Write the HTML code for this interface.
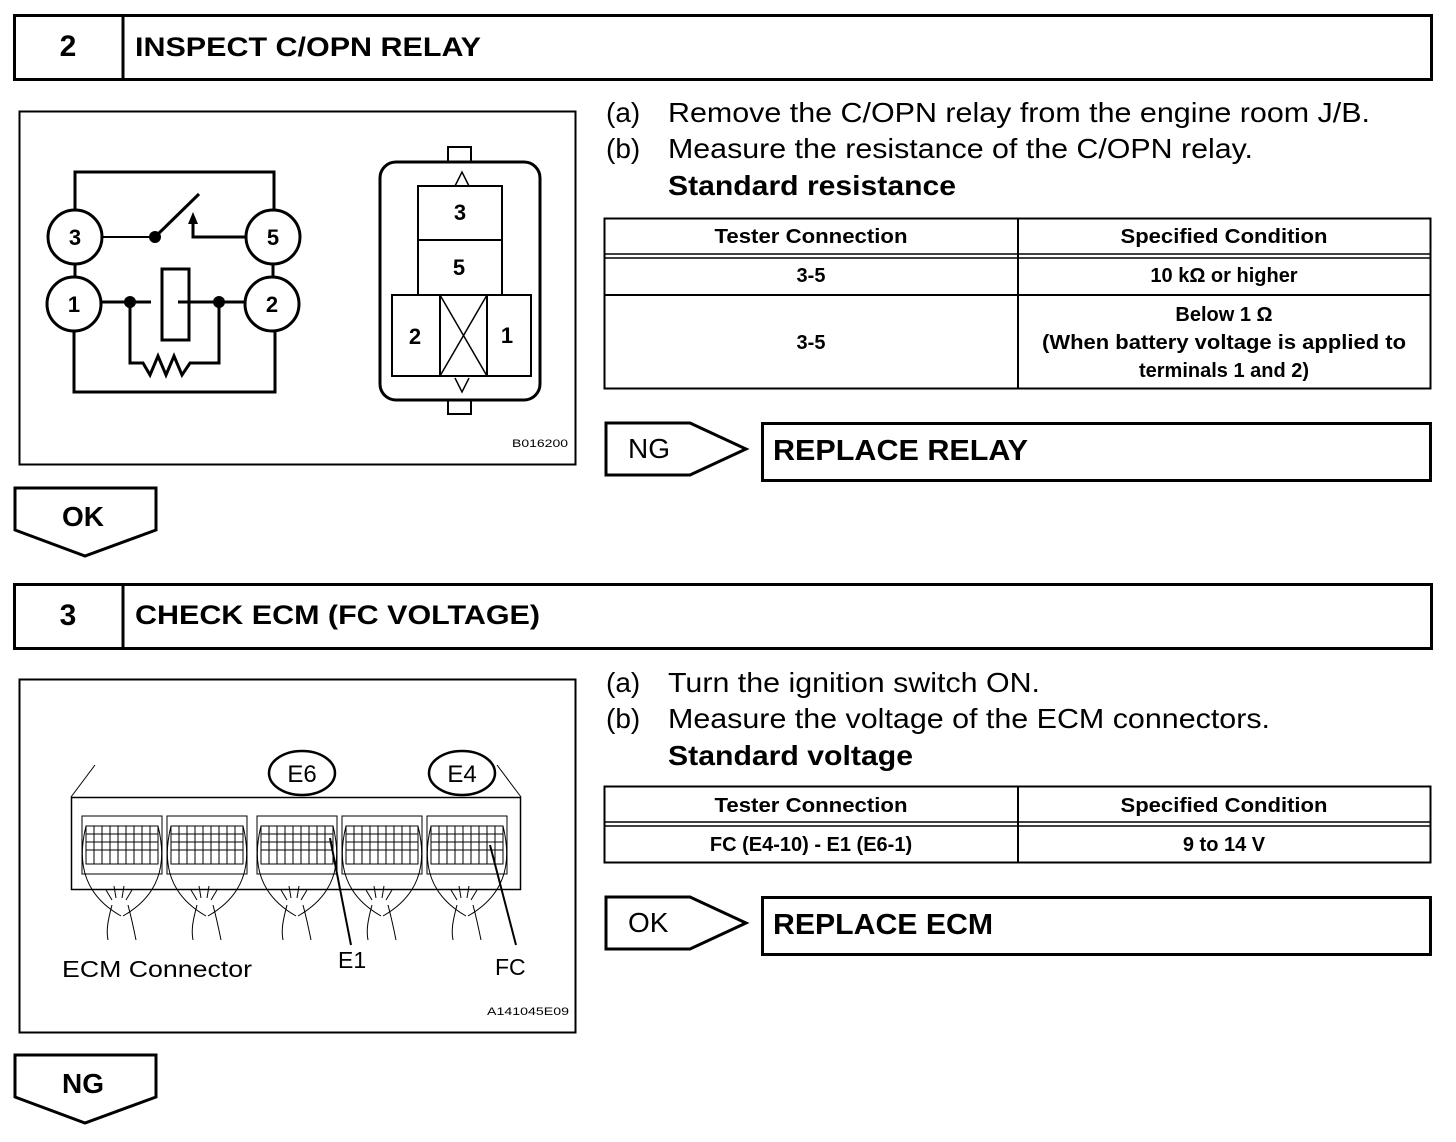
<!DOCTYPE html>
<html><head><meta charset="utf-8"><style>
html,body{margin:0;padding:0;background:#fff}
svg{display:block}
text{font-family:"Liberation Sans",sans-serif;fill:#000}
.b{font-weight:bold}
</style></head><body>
<svg width="1456" height="1142" viewBox="0 0 1456 1142" xmlns="http://www.w3.org/2000/svg">
<g fill="none" stroke="#000">
<!-- section 2 header -->
<rect x="14.5" y="15.5" width="1417" height="64" stroke-width="3"/>
<line x1="123" y1="15" x2="123" y2="80" stroke-width="3"/>
<!-- figure 1 -->
<rect x="19.5" y="111.5" width="556" height="353" stroke-width="2"/>
<!-- relay schematic -->
<g stroke-width="3">
<polyline points="75,211 75,172 274,172 274,211"/>
<polyline points="74,330 74,392 275,392 275,330"/>
<line x1="75" y1="263" x2="75" y2="278"/>
<line x1="273" y1="263" x2="273" y2="278"/>
<line x1="155" y1="237" x2="199" y2="194"/>
<polyline points="193,222 193,237 247,237"/>
<line x1="100" y1="302" x2="151" y2="302"/>
<line x1="178" y1="302" x2="246" y2="302"/>
<polyline points="130,302 130,363 143,363 150,375 158,356 166,375 174,356 182,375 190,363 219,363 219,302"/>
</g>
<line x1="101" y1="237" x2="155" y2="237" stroke-width="2"/>
<rect x="162" y="269" width="27" height="71" stroke-width="3"/>
<circle cx="75" cy="237" r="27" stroke-width="3"/>
<circle cx="273" cy="237" r="27" stroke-width="3"/>
<circle cx="74" cy="304" r="27" stroke-width="3"/>
<circle cx="272" cy="304" r="27" stroke-width="3"/>
<!-- relay layout -->
<rect x="380" y="162" width="160" height="238" rx="16" stroke-width="3"/>
<rect x="448" y="147" width="23" height="15" stroke-width="2"/>
<rect x="448" y="400" width="23" height="14" stroke-width="2"/>
<rect x="418" y="186" width="84" height="54" stroke-width="2"/>
<rect x="418" y="240" width="84" height="55" stroke-width="2"/>
<rect x="392" y="295" width="48" height="81" stroke-width="2"/>
<rect x="440" y="295" width="47" height="81" stroke-width="2"/>
<rect x="487" y="295" width="44" height="81" stroke-width="2"/>
<line x1="440" y1="295" x2="487" y2="376" stroke-width="1.5"/>
<line x1="487" y1="295" x2="440" y2="376" stroke-width="1.5"/>
<polyline points="455,186 462,172 469,186" stroke-width="1.5"/>
<polyline points="455,378 462,392 469,378" stroke-width="1.5"/>
<!-- table 1 -->
<rect x="604.5" y="218.5" width="826" height="170" stroke-width="2"/>
<line x1="1018" y1="218" x2="1018" y2="389" stroke-width="2"/>
<line x1="604" y1="254" x2="1431" y2="254" stroke-width="1.5"/>
<line x1="604" y1="258" x2="1431" y2="258" stroke-width="1.5"/>
<line x1="604" y1="295" x2="1431" y2="295" stroke-width="2"/>
<!-- NG arrow -->
<polygon points="606,423 690,423 746,449 690,475 606,475" stroke-width="3"/>
<rect x="762.5" y="423.5" width="668" height="57" stroke-width="3"/>
<!-- OK down arrow -->
<polygon points="15,488 156,488 156,530 85,556 15,530" stroke-width="3"/>
<!-- section 3 header -->
<rect x="14.5" y="584.5" width="1417" height="64" stroke-width="3"/>
<line x1="123" y1="584" x2="123" y2="649" stroke-width="3"/>
<rect x="19.5" y="679.5" width="556" height="353" stroke-width="2"/>
<!-- ECM -->
<line x1="71" y1="797" x2="95" y2="765" stroke-width="1"/>
<line x1="521" y1="797" x2="497" y2="765" stroke-width="1"/>
<rect x="71.5" y="797.5" width="449" height="92" stroke-width="1.5"/>
<ellipse cx="302" cy="773" rx="33" ry="22" stroke-width="2.5"/>
<ellipse cx="462" cy="773" rx="33" ry="22" stroke-width="2.5"/>
<g stroke-width="1">
<g id="c">
<path d="M82,816 h80 v58 h-80 z"/>
<path d="M86,826 h72 v38 h-72 z"/>
<path d="M86,834 h72 M86,842 h72 M86,850 h72 M94,826 v38 M102,826 v38 M110,826 v38 M118,826 v38 M126,826 v38 M134,826 v38 M142,826 v38 M150,826 v38"/>
<path d="M86,826 c-10,40 0,70 35,90 M158,826 c10,40 0,70 -35,90"/>
<path d="M112,905 c-4,15 -6,25 -4,35 M128,905 c4,15 6,25 8,35 M112,900 l-6,-10 M116,898 l-2,-12 M122,898 l2,-12 M126,900 l6,-10"/>
</g>
<use href="#c" x="85"/>
<use href="#c" x="175"/>
<use href="#c" x="260"/>
<use href="#c" x="345"/>
</g>
<line x1="330" y1="838" x2="351" y2="945" stroke-width="2"/>
<line x1="490" y1="845" x2="516" y2="945" stroke-width="2"/>
<!-- table 2 -->
<rect x="604.5" y="786.5" width="826" height="76" stroke-width="2"/>
<line x1="1018" y1="786" x2="1018" y2="863" stroke-width="2"/>
<line x1="604" y1="822" x2="1431" y2="822" stroke-width="1.5"/>
<line x1="604" y1="826" x2="1431" y2="826" stroke-width="1.5"/>
<polygon points="606,897 690,897 746,923 690,949 606,949" stroke-width="3"/>
<rect x="762.5" y="897.5" width="668" height="57" stroke-width="3"/>
<polygon points="15,1055 156,1055 156,1097 85,1123 15,1097" stroke-width="3"/>
</g>
<!-- dots -->
<circle cx="155" cy="237" r="6"/>
<circle cx="130" cy="302" r="6"/>
<circle cx="219" cy="302" r="6"/>
<polygon points="188,224 198,224 193,212"/>

<!-- text -->
<text x="68" y="56" class="b" font-size="30" text-anchor="middle">2</text>
<text x="135" y="56" class="b" font-size="27" textLength="346" lengthAdjust="spacingAndGlyphs">INSPECT C/OPN RELAY</text>
<g class="b" font-size="22" text-anchor="middle">
<text x="75" y="245">3</text><text x="273" y="245">5</text>
<text x="74" y="312">1</text><text x="272" y="312">2</text>
<text x="460" y="220">3</text><text x="459" y="275">5</text>
<text x="415" y="344">2</text><text x="507" y="343">1</text>
</g>
<text x="512" y="447" font-size="11" textLength="56" lengthAdjust="spacingAndGlyphs">B016200</text>

<text x="606" y="122" font-size="28">(a)</text>
<text x="668" y="122" font-size="28" textLength="702" lengthAdjust="spacingAndGlyphs">Remove the C/OPN relay from the engine room J/B.</text>
<text x="606" y="158" font-size="28">(b)</text>
<text x="668" y="158" font-size="28" textLength="585" lengthAdjust="spacingAndGlyphs">Measure the resistance of the C/OPN relay.</text>
<text x="668" y="195" font-size="28" class="b" textLength="288" lengthAdjust="spacingAndGlyphs">Standard resistance</text>

<g class="b" font-size="20" text-anchor="middle">
<text x="811" y="243" textLength="193" lengthAdjust="spacingAndGlyphs">Tester Connection</text>
<text x="1224" y="243" textLength="207" lengthAdjust="spacingAndGlyphs">Specified Condition</text>
<text x="811" y="282">3-5</text>
<text x="1224" y="282">10 kΩ or higher</text>
<text x="811" y="349">3-5</text>
<text x="1224" y="321">Below 1 Ω</text>
<text x="1224" y="349" textLength="364" lengthAdjust="spacingAndGlyphs">(When battery voltage is applied to</text>
<text x="1224" y="377">terminals 1 and 2)</text>
<text x="811" y="812" textLength="193" lengthAdjust="spacingAndGlyphs">Tester Connection</text>
<text x="1224" y="812" textLength="207" lengthAdjust="spacingAndGlyphs">Specified Condition</text>
<text x="811" y="851">FC (E4-10) - E1 (E6-1)</text>
<text x="1224" y="851">9 to 14 V</text>
</g>
<text x="628" y="458" font-size="28">NG</text>
<text x="773" y="460" font-size="29" class="b" textLength="255" lengthAdjust="spacingAndGlyphs">REPLACE RELAY</text>
<text x="62" y="526" font-size="28" class="b">OK</text>

<text x="68" y="625" class="b" font-size="30" text-anchor="middle">3</text>
<text x="135" y="624" class="b" font-size="27" textLength="405" lengthAdjust="spacingAndGlyphs">CHECK ECM (FC VOLTAGE)</text>

<text x="302" y="782" font-size="24" text-anchor="middle">E6</text>
<text x="462" y="782" font-size="24" text-anchor="middle">E4</text>
<text x="62" y="977" font-size="23" textLength="190" lengthAdjust="spacingAndGlyphs">ECM Connector</text>
<text x="338" y="968" font-size="23">E1</text>
<text x="495" y="975" font-size="23">FC</text>
<text x="487" y="1015" font-size="11" textLength="82" lengthAdjust="spacingAndGlyphs">A141045E09</text>

<text x="606" y="692" font-size="28">(a)</text>
<text x="668" y="692" font-size="28" textLength="372" lengthAdjust="spacingAndGlyphs">Turn the ignition switch ON.</text>
<text x="606" y="728" font-size="28">(b)</text>
<text x="668" y="728" font-size="28" textLength="602" lengthAdjust="spacingAndGlyphs">Measure the voltage of the ECM connectors.</text>
<text x="668" y="765" font-size="28" class="b" textLength="245" lengthAdjust="spacingAndGlyphs">Standard voltage</text>

<text x="628" y="932" font-size="28">OK</text>
<text x="773" y="934" font-size="29" class="b" textLength="220" lengthAdjust="spacingAndGlyphs">REPLACE ECM</text>
<text x="62" y="1093" font-size="28" class="b">NG</text>
</svg>
</body></html>
